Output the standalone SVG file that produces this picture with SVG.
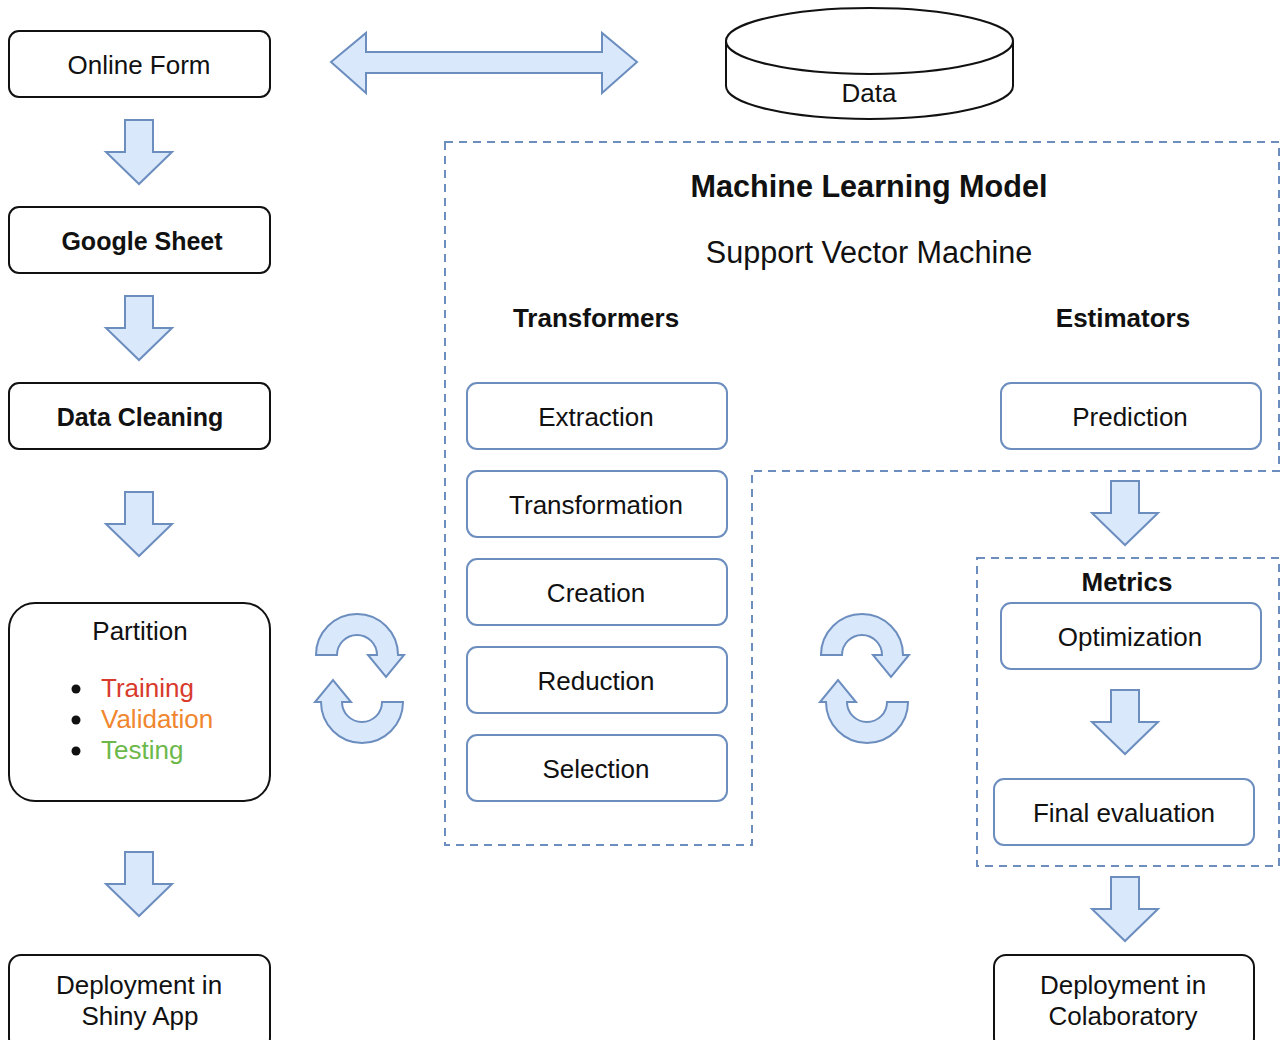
<svg xmlns="http://www.w3.org/2000/svg" xmlns:xlink="http://www.w3.org/1999/xlink" width="1281" height="1040" viewBox="0 0 1281 1040">
<style>
text{font-family:"Liberation Sans",Arial,sans-serif;fill:#111;text-anchor:middle}
.lbl{font-size:26px}
.b{font-weight:bold}
.box{fill:#fff;stroke:#111;stroke-width:2}
.bbox{fill:#fff;stroke:#6c8ebf;stroke-width:2}
.arr{fill:#dae8fc;stroke:#6c8ebf;stroke-width:2;stroke-linejoin:miter}
.dash{fill:none;stroke:#6c8ebf;stroke-width:2;stroke-dasharray:8 6}
</style>
<defs>
<path id="down" class="arr" d="M-14,0 H14 V32 H33 L0,64 L-33,32 H-14 Z"/>
<g id="cycle">
<path class="arr" d="M316,655 A41,41 0 0 1 398,655 H404 L386,677 L368,655 H377 A20,20 0 0 0 337,655 Z"/>
<path class="arr" transform="rotate(180 359.5 678.5)" d="M316,655 A41,41 0 0 1 398,655 H404 L386,677 L368,655 H377 A20,20 0 0 0 337,655 Z"/>
</g>
</defs>
<rect width="1281" height="1040" fill="#fff"/>

<g id="regions">
<path class="dash" d="M445,142 H1279 V471 H752 V845 H445 Z"/>
<path class="dash" d="M977,558 H1279 V866 H977 Z"/>
</g>

<g id="connectors">
<path class="arr" d="M331,62 L366,33 V52 H602 V33 L637,62 L602,93 V73 H366 V93 Z"/>
<use href="#down" x="139" y="120"/>
<use href="#down" x="139" y="296"/>
<use href="#down" x="139" y="492"/>
<use href="#down" x="139" y="852"/>
<use href="#down" x="1125" y="481"/>
<use href="#down" x="1125" y="690"/>
<use href="#down" x="1125" y="877"/>
<use href="#cycle"/>
<use href="#cycle" x="505"/>
</g>

<g id="online-form"><rect class="box" x="9" y="31" width="261" height="66" rx="10"/><text class="lbl" x="139" y="74">Online Form</text></g>
<g id="google-sheet"><rect class="box" x="9" y="207" width="261" height="66" rx="10"/><text class="lbl b" x="142" y="250" style="font-size:25px">Google Sheet</text></g>
<g id="data-cleaning"><rect class="box" x="9" y="383" width="261" height="66" rx="10"/><text class="lbl b" x="140" y="426" style="font-size:25px">Data Cleaning</text></g>
<g id="partition"><rect class="box" x="9" y="603" width="261" height="198" rx="26"/>
<text class="lbl" x="140" y="640">Partition</text>
<circle cx="76" cy="689" r="4.5" fill="#111"/><circle cx="76" cy="720" r="4.5" fill="#111"/><circle cx="76" cy="751" r="4.5" fill="#111"/>
<text class="lbl" x="101" y="697" style="text-anchor:start;fill:#d83a2c">Training</text>
<text class="lbl" x="101" y="728" style="text-anchor:start;fill:#f0862e">Validation</text>
<text class="lbl" x="101" y="759" style="text-anchor:start;fill:#6db84a">Testing</text>
</g>
<g id="deploy-shiny"><rect class="box" x="9" y="955" width="261" height="95" rx="12"/><text class="lbl" x="139" y="994">Deployment in</text><text class="lbl" x="140" y="1025">Shiny App</text></g>

<g id="data"><path d="M726,41 V86 A143.5,33 0 0 0 1013,86 V41" fill="#fff" stroke="#111" stroke-width="2"/><ellipse cx="869.5" cy="41" rx="143.5" ry="33" fill="#fff" stroke="#111" stroke-width="2"/><text class="lbl" x="869" y="102">Data</text></g>

<g id="ml-title">
<text class="b" x="869" y="197" style="font-size:30.6px">Machine Learning Model</text>
<text x="869" y="263" style="font-size:30.6px">Support Vector Machine</text>
<text class="lbl b" x="596" y="327">Transformers</text>
<text class="lbl b" x="1123" y="327">Estimators</text>
<text class="lbl b" x="1127" y="591">Metrics</text>
</g>

<g id="extraction"><rect class="bbox" x="467" y="383" width="260" height="66" rx="10"/><text class="lbl" x="596" y="426">Extraction</text></g>
<g id="transformation"><rect class="bbox" x="467" y="471" width="260" height="66" rx="10"/><text class="lbl" x="596" y="514">Transformation</text></g>
<g id="creation"><rect class="bbox" x="467" y="559" width="260" height="66" rx="10"/><text class="lbl" x="596" y="602">Creation</text></g>
<g id="reduction"><rect class="bbox" x="467" y="647" width="260" height="66" rx="10"/><text class="lbl" x="596" y="690">Reduction</text></g>
<g id="selection"><rect class="bbox" x="467" y="735" width="260" height="66" rx="10"/><text class="lbl" x="596" y="778">Selection</text></g>
<g id="prediction"><rect class="bbox" x="1001" y="383" width="260" height="66" rx="10"/><text class="lbl" x="1130" y="426">Prediction</text></g>
<g id="optimization"><rect class="bbox" x="1001" y="603" width="260" height="66" rx="10"/><text class="lbl" x="1130" y="646">Optimization</text></g>
<g id="final-evaluation"><rect class="bbox" x="994" y="779" width="260" height="66" rx="10"/><text class="lbl" x="1124" y="822">Final evaluation</text></g>
<g id="deploy-colab"><rect class="box" x="994" y="955" width="260" height="95" rx="12"/><text class="lbl" x="1123" y="994">Deployment in</text><text class="lbl" x="1123" y="1025">Colaboratory</text></g>
</svg>
